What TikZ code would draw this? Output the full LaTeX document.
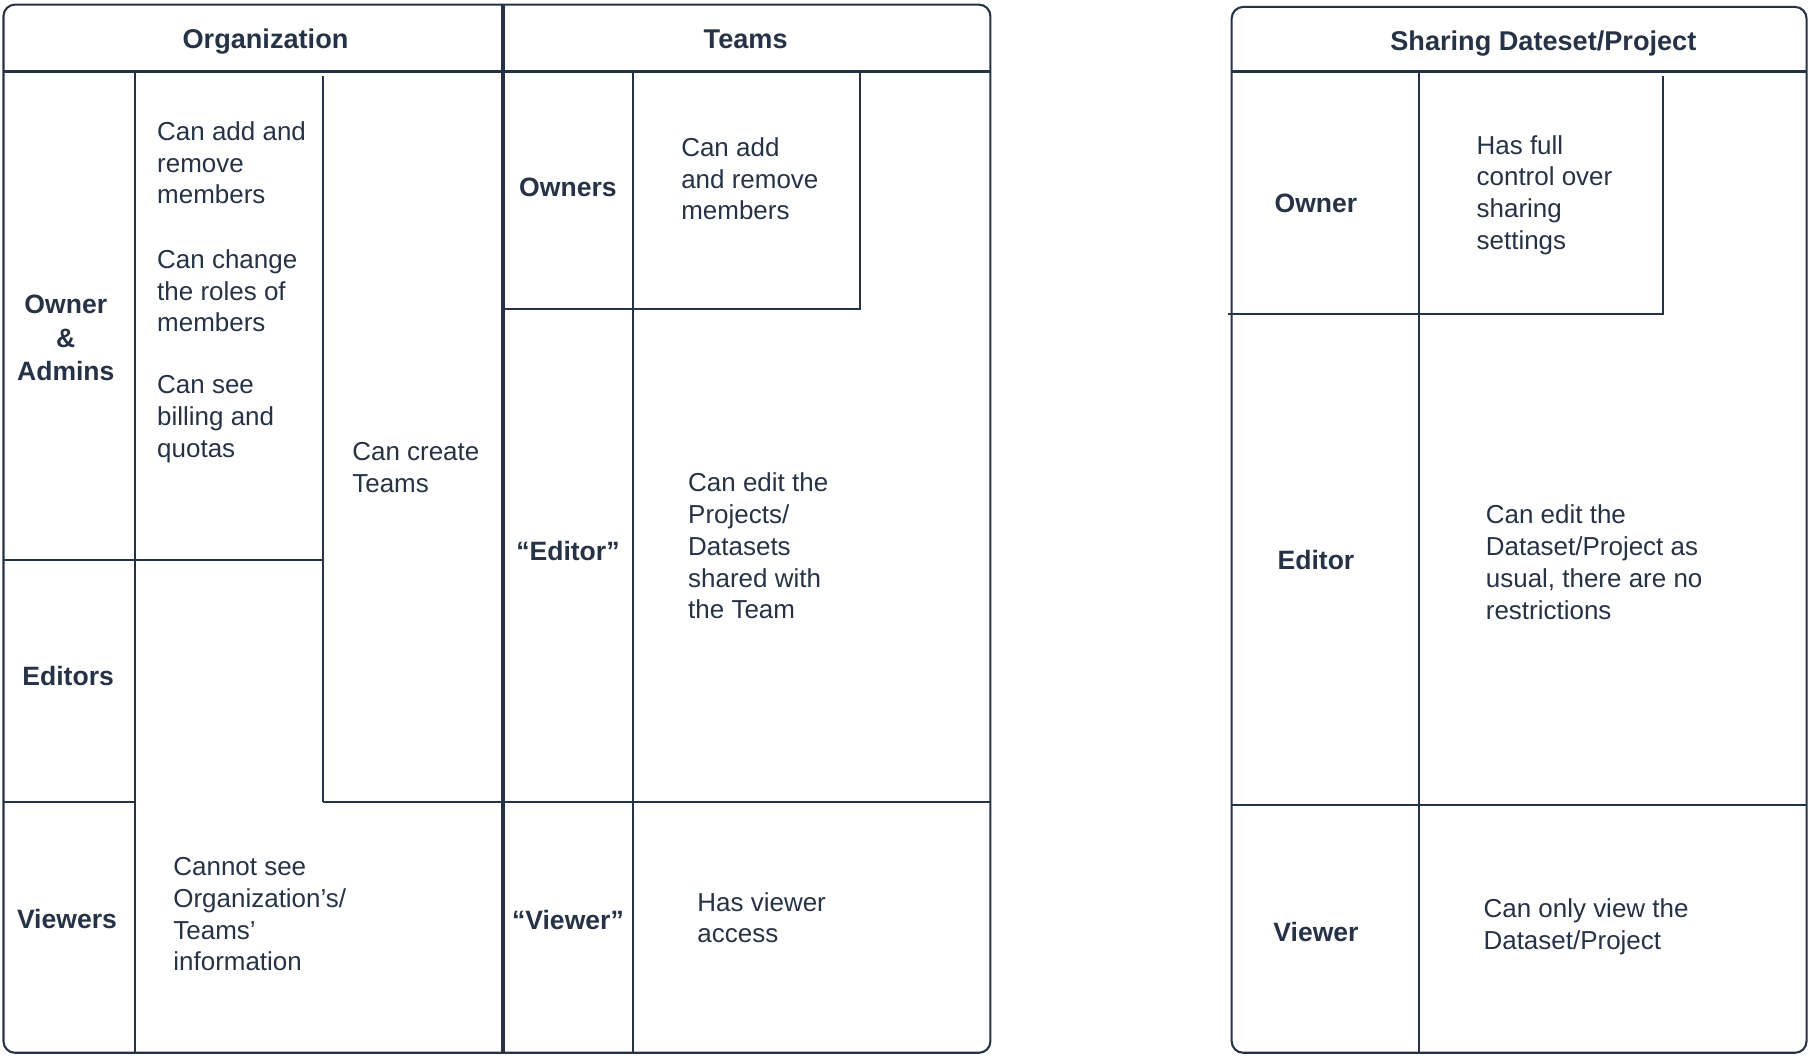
\documentclass[tikz,border=0pt]{standalone}
\usepackage{fontspec}
\setmainfont{Liberation Sans}
\definecolor{ink}{HTML}{263245}

\begin{document}
\begin{tikzpicture}[x=1pt,y=-1pt,
  headnode/.style={%
    font=\fontsize{23.5}{28}\selectfont\bfseries,%
    text=ink,%
    inner sep=0pt%
  },
  rolenode/.style={%
    font=\fontsize{23}{29}\selectfont\bfseries,%
    text=ink,%
    align=center,%
    inner sep=0pt%
  },
  textnode/.style={%
    font=\fontsize{22.5}{27.5}\selectfont,%
    text=ink,%
    align=left,%
    anchor=west,%
    inner sep=0pt%
  },
  gridline/.style={draw=ink, line width=1.8pt},
  boldline/.style={draw=ink, line width=3.2pt}
]
  \useasboundingbox (0,0) rectangle (1568,916);

  % frames
  \draw[gridline, rounded corners=10pt] (3,4) rectangle (858,912);
  \draw[gridline, rounded corners=10pt] (1067,6) rectangle (1565,912);

  % Organization / Teams table
  \draw[boldline] (3,62) -- (858,62);
  \draw[boldline] (436,4) -- (436,912);
  \draw[gridline] (117,62) -- (117,912);
  \draw[gridline] (280,66) -- (280,695);
  \draw[gridline] (3,485) -- (280,485);
  \draw[gridline] (3,695) -- (117,695);
  \draw[gridline] (280,695) -- (858,695);
  \draw[gridline] (548,62) -- (548,912);
  \draw[gridline] (745,62) -- (745,268) -- (436,268);

  % Sharing table
  \draw[boldline] (1067,62) -- (1565,62);
  \draw[gridline] (1229,62) -- (1229,912);
  \draw[gridline] (1441,66) -- (1441,272) -- (1064,272);
  \draw[gridline] (1067,697) -- (1565,697);

  % headers
  \node [headnode] (org)   at (230,36)  {Organization};
  \node [headnode] (teams) at (646,34)  {Teams};
  \node [headnode] (share) at (1337,38) {Sharing Dateset/Project};

  % Organization
  \node [rolenode] (orgadmin)  at (57,293)  {Owner\\\&\\Admins};
  \node [rolenode] (orgeditor) at (59,586)  {Editors};
  \node [rolenode] (orgviewer) at (58,796)  {Viewers};
  \node [textnode] (addrm)   at (136,141) {Can add and\\remove\\members};
  \node [textnode] (roles)   at (136,252) {Can change\\the roles of\\members};
  \node [textnode] (billing) at (136,363) {Can see\\billing and\\quotas};
  \node [textnode] (create)  at (305,405) {Can create\\Teams};
  \node [textnode] (cannot)  at (150,792) {Cannot see\\Organization’s/\\Teams’\\information};

  % Teams
  \node [rolenode] (tmowner)  at (492,162) {Owners};
  \node [rolenode] (tmeditor) at (492,477) {“Editor”};
  \node [rolenode] (tmviewer) at (492,797) {“Viewer”};
  \node [textnode] (tmaddrm) at (590,155) {Can add\\and remove\\members};
  \node [textnode] (tmedit)  at (596,473) {Can edit the\\Projects/\\Datasets\\shared with\\the Team};
  \node [textnode] (tmview)  at (604,795) {Has viewer\\access};

  % Sharing
  \node [rolenode] (showner)  at (1140,176) {Owner};
  \node [rolenode] (sheditor) at (1140,485) {Editor};
  \node [rolenode] (shviewer) at (1140,807) {Viewer};
  \node [textnode] (shfull) at (1279,169) {Has full\\control over\\sharing\\settings};
  \node [textnode] (shedit) at (1287,487) {Can edit the\\Dataset/Project as\\usual, there are no\\restrictions};
  \node [textnode] (shview) at (1285,803) {Can only view the\\Dataset/Project};

\end{tikzpicture}
\end{document}
